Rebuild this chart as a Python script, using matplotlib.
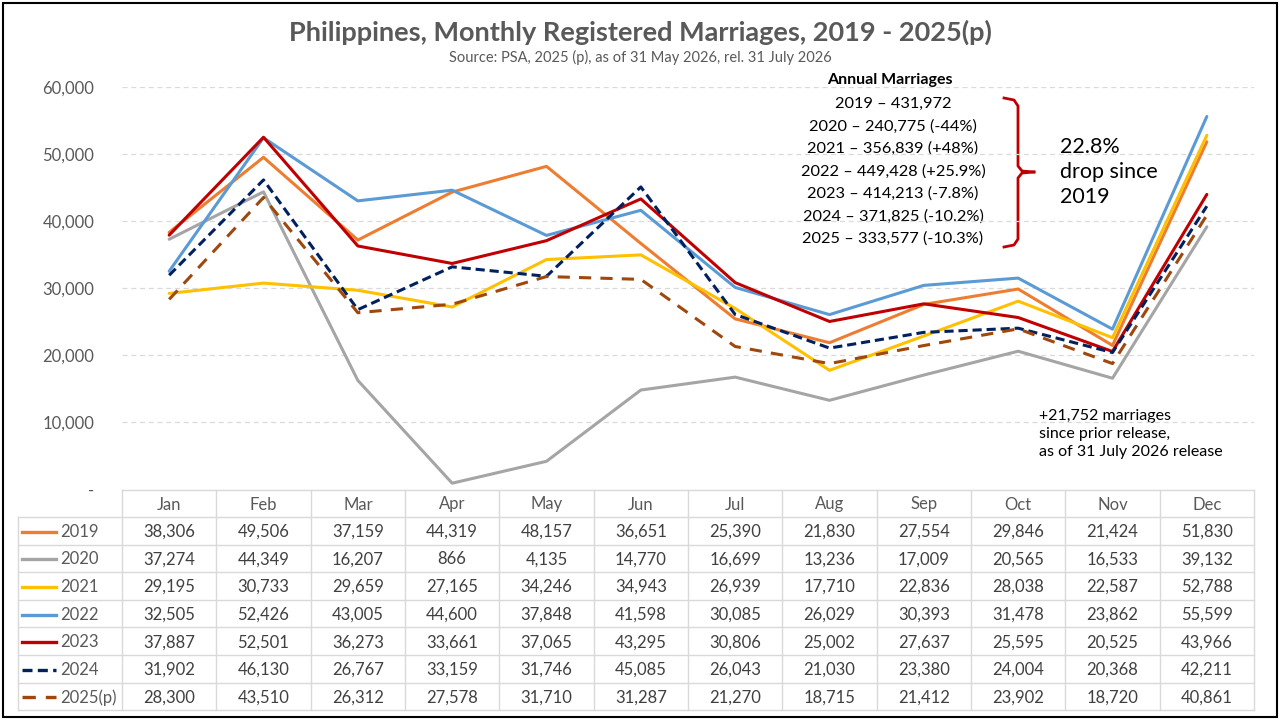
import matplotlib
matplotlib.use("Agg")
import matplotlib.pyplot as plt
from matplotlib.lines import Line2D

plt.rcParams["font.family"] = ["Lato", "DejaVu Sans"]

months = ["Jan", "Feb", "Mar", "Apr", "May", "Jun", "Jul", "Aug", "Sep", "Oct", "Nov", "Dec"]
years = ["2019", "2020", "2021", "2022", "2023", "2024", "2025(p)"]

m2019 = [38306, 49506, 37159, 44319, 48157, 36651, 25390, 21830, 27554, 29846, 21424, 51830]
m2020 = [37274, 44349, 16207, 866, 4135, 14770, 16699, 13236, 17009, 20565, 16533, 39132]
m2021 = [29195, 30733, 29659, 27165, 34246, 34943, 26939, 17710, 22836, 28038, 22587, 52788]
m2022 = [32505, 52426, 43005, 44600, 37848, 41598, 30085, 26029, 30393, 31478, 23862, 55599]
m2023 = [37887, 52501, 36273, 33661, 37065, 43295, 30806, 25002, 27637, 25595, 20525, 43966]
m2024 = [31902, 46130, 26767, 33159, 31746, 45085, 26043, 21030, 23380, 24004, 20368, 42211]
m2025 = [28300, 43510, 26312, 27578, 31710, 31287, 21270, 18715, 21412, 23902, 18720, 40861]
series = [m2019, m2020, m2021, m2022, m2023, m2024, m2025]

annual_lines = [
    "2019 \u2013 431,972",
    "2020 \u2013 240,775 (-44%)",
    "2021 \u2013 356,839 (+48%)",
    "2022 \u2013 449,428 (+25.9%)",
    "2023 \u2013 414,213 (-7.8%)",
    "2024 \u2013 371,825 (-10.2%)",
    "2025 \u2013 333,577 (-10.3%)",
]
yticks = [0, 10000, 20000, 30000, 40000, 50000, 60000]

colors = ["#ED7D31", "#A5A5A5", "#FFC000", "#5B9BD5", "#C00000", "#002060", "#9E480E"]
styles = ["-", "-", "-", "-", "-", (0, (3, 1.6)), (0, (4, 3))]

W, H = 1280, 720
fig = plt.figure(figsize=(12.8, 7.2), dpi=100)

# pixel overlay for table and notes
ov = fig.add_axes([0, 0, 1, 1])
ov.set_xlim(0, W)
ov.set_ylim(H, 0)
ov.axis("off")

x0, x1 = 122, 1254
y_top, y_bot = 87, 489
ax = fig.add_axes([x0 / W, 1 - y_bot / H, (x1 - x0) / W, (y_bot - y_top) / H])
ax.patch.set_alpha(0)
ax.set_xlim(-0.5, 11.5)
ax.set_ylim(0, 60000)
for s in ax.spines.values():
    s.set_visible(False)
ax.set_xticks([])
ax.set_yticks(yticks)
ax.set_yticklabels(["-" if v == 0 else f"{v:,}" for v in yticks], fontsize=12, color="#595959")
ax.tick_params(axis="y", length=0, pad=20)
for v in yticks[1:]:
    ax.axhline(v, color="#DADADA", lw=0.9, ls=(0, (4, 3)), zorder=0)

x = list(range(12))
for vals, c, ls, yr in zip(series, colors, styles, years):
    ax.plot(x, vals, color=c, lw=2.2, ls=ls, label=yr, solid_capstyle="round")

# title
ov.text(640, 32, "Philippines, Monthly Registered Marriages, 2019 - 2025(p)", ha="center", va="center",
        fontsize=19.5, fontweight="bold", color="#595959")
ov.text(640, 57, "Source: PSA, 2025 (p), as of 31 May 2026, rel. 31 July 2026", ha="center", va="center",
        fontsize=10.5, color="#595959")

# table
grid_c = "#D9D9D9"
col_w = (x1 - x0) / 12
hdr_top, hdr_bot = 490, 517
row_h = 27.6
tbl_bot = hdr_bot + row_h * len(years)
ov.add_line(Line2D([x0, x1], [hdr_top, hdr_top], color=grid_c, lw=1))
for i in range(13):
    xx = x0 + i * col_w
    ov.add_line(Line2D([xx, xx], [hdr_top, tbl_bot], color=grid_c, lw=1))
ov.add_line(Line2D([18, 18], [hdr_bot, tbl_bot], color=grid_c, lw=1))
for r in range(len(years) + 1):
    yy = hdr_bot + r * row_h
    ov.add_line(Line2D([18, x1], [yy, yy], color=grid_c, lw=1))
for i, m in enumerate(months):
    ov.text(x0 + (i + 0.5) * col_w, (hdr_top + hdr_bot) / 2 + 1, m, ha="center", va="center",
            fontsize=12, color="#595959")
for r, (vals, c, ls, yr) in enumerate(zip(series, colors, styles, years)):
    yc = hdr_bot + (r + 0.5) * row_h + 1
    ov.add_line(Line2D([22, 56], [yc, yc], color=c, lw=2.4, ls=ls))
    ov.text(60, yc, yr, ha="left", va="center", fontsize=12, color="#595959")
    for i, v in enumerate(vals):
        ov.text(x0 + (i + 0.5) * col_w, yc, f"{v:,}", ha="center", va="center", fontsize=12, color="#404040")

# annual marriages box
ov.text(890, 80, "Annual Marriages", ha="center", va="center", fontsize=11.5, fontweight="bold", color="black")
for k, line in enumerate(annual_lines):
    ov.text(893, 104 + k * 22.5, line, ha="center", va="center", fontsize=11.8, color="black")

# brace
bt, bb, bm = 98, 247, 172
brace_c = "#C00000"
ov.plot([1004, 1014, 1018, 1018, 1022, 1034], [bt, bt + 2, bt + 8, bm - 6, bm - 1, bm], color=brace_c, lw=2)
ov.plot([1004, 1014, 1018, 1018, 1022, 1034], [bb, bb - 2, bb - 8, bm + 6, bm + 1, bm], color=brace_c, lw=2)
ov.text(1060, 172, "22.8%\ndrop since\n2019", ha="left", va="center", fontsize=15.5, color="black",
        linespacing=1.3)

ov.text(1039, 434, "+21,752 marriages\nsince prior release,\nas of 31 July 2026 release", ha="left",
        va="center", fontsize=11.5, color="black", linespacing=1.35)

# outer frame
ov.add_patch(plt.Rectangle((3, 3), W - 6, H - 6, fill=False, ec="black", lw=1.5))

fig.savefig("out.png", dpi=100)
